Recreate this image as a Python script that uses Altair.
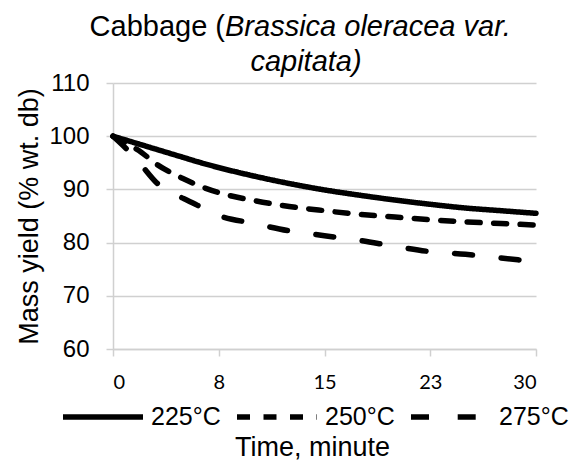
import altair as alt
import pandas as pd

# ---- data ----
time_min = [0, 1, 2, 3, 4, 5, 6, 7.5, 10, 12.5, 15, 17.5, 20, 22.5, 25, 27.5, 30]
yield_225 = [100, 99.2, 98.4, 97.6, 96.8, 96.0, 95.2, 94.1, 92.5, 91.1, 89.9, 88.9, 88.0, 87.2, 86.5, 86.0, 85.5]
yield_250 = [100, 98.6, 97.0, 94.9, 93.3, 92.0, 90.8, 89.4, 87.9, 86.8, 86.0, 85.3, 84.8, 84.3, 83.9, 83.6, 83.3]
yield_275 = [100, 97.5, 94.6, 91.5, 89.4, 88.3, 87.0, 85.1, 83.6, 82.2, 81.3, 80.4, 79.3, 78.3, 77.8, 77.1, 76.4]
temps = ["225°C", "250°C", "275°C"]
x_ticks = [0, 7.5, 15, 22.5, 30]
y_ticks = [60, 70, 80, 90, 100, 110]
title_normal = "Cabbage ("
title_italic_1 = "Brassica oleracea var."
title_italic_2 = "capitata)"
x_title = "Time, minute"
y_title = "Mass yield (% wt. db)"

rows = []
for temp, vals in zip(temps, [yield_225, yield_250, yield_275]):
    for t, v in zip(time_min, vals):
        rows.append({"time": t, "yield": v, "temp": temp})
df = pd.DataFrame(rows)

GRID = "#d0d0d0"
FONT = "Liberation Sans"

lines = alt.Chart(df).mark_line(
    color="black", strokeWidth=5.5, strokeCap="round", strokeJoin="round",
    interpolate="monotone"
).encode(
    x=alt.X("time:Q", scale=alt.Scale(domain=[0, 30], nice=False),
            axis=alt.Axis(values=x_ticks, format=".0f", grid=False,
                          labelFont="Lato", labelFontSize=20, labelPadding=16,
                          title=x_title, titleX=199, titleY=106,
                          titleAlign="center", titleBaseline="alphabetic")),
    y=alt.Y("yield:Q", scale=alt.Scale(domain=[60, 110], nice=False),
            axis=alt.Axis(values=y_ticks, labelFont=FONT, labelFontSize=24,
                          labelPadding=17, title=y_title, titlePadding=5)),
    strokeDash=alt.StrokeDash(
        "temp:N",
        scale=alt.Scale(domain=temps, range=[[1, 0], [13, 13.5], [18, 28.7]]),
        legend=alt.Legend(orient="none", legendX=-53, legendY=291,
                          direction="horizontal", columns=3, title=None,
                          padding=0, symbolType="stroke", symbolSize=6400,
                          symbolStrokeWidth=5.5, symbolStrokeColor="black",
                          labelFont=FONT, labelFontSize=25, labelColor="black",
                          labelOffset=5, columnPadding=5),
    ),
)

t1 = alt.Chart(pd.DataFrame({"t": [title_normal]})).mark_text(
    align="right", baseline="alphabetic", font=FONT, fontSize=29, color="black"
).encode(text="t:N", x=alt.value(112), y=alt.value(-47))

t2 = alt.Chart(pd.DataFrame({"t": [title_italic_1]})).mark_text(
    align="left", baseline="alphabetic", font=FONT, fontSize=29, fontStyle="italic", color="black"
).encode(text="t:N", x=alt.value(112), y=alt.value(-47))

t3 = alt.Chart(pd.DataFrame({"t": [title_italic_2]})).mark_text(
    align="center", baseline="alphabetic", font=FONT, fontSize=29, fontStyle="italic", color="black"
).encode(text="t:N", x=alt.value(193), y=alt.value(-12))

chart = alt.layer(lines, t1, t2, t3).properties(
    width=423, height=266,
    autosize=alt.AutoSizeParams(type="none"),
    padding={"left": 105, "top": 75, "right": 39, "bottom": 111},
).configure_view(stroke=None).configure_axis(
    gridColor=GRID, gridWidth=1.5, domainColor=GRID, domainWidth=1.5,
    tickColor=GRID, tickWidth=1.5, tickSize=7, labelColor="black",
    titleFont=FONT, titleFontSize=27, titleFontWeight="normal", titleColor="black",
)

chart.save("out.html", embed_options={"renderer": "svg", "actions": False})
